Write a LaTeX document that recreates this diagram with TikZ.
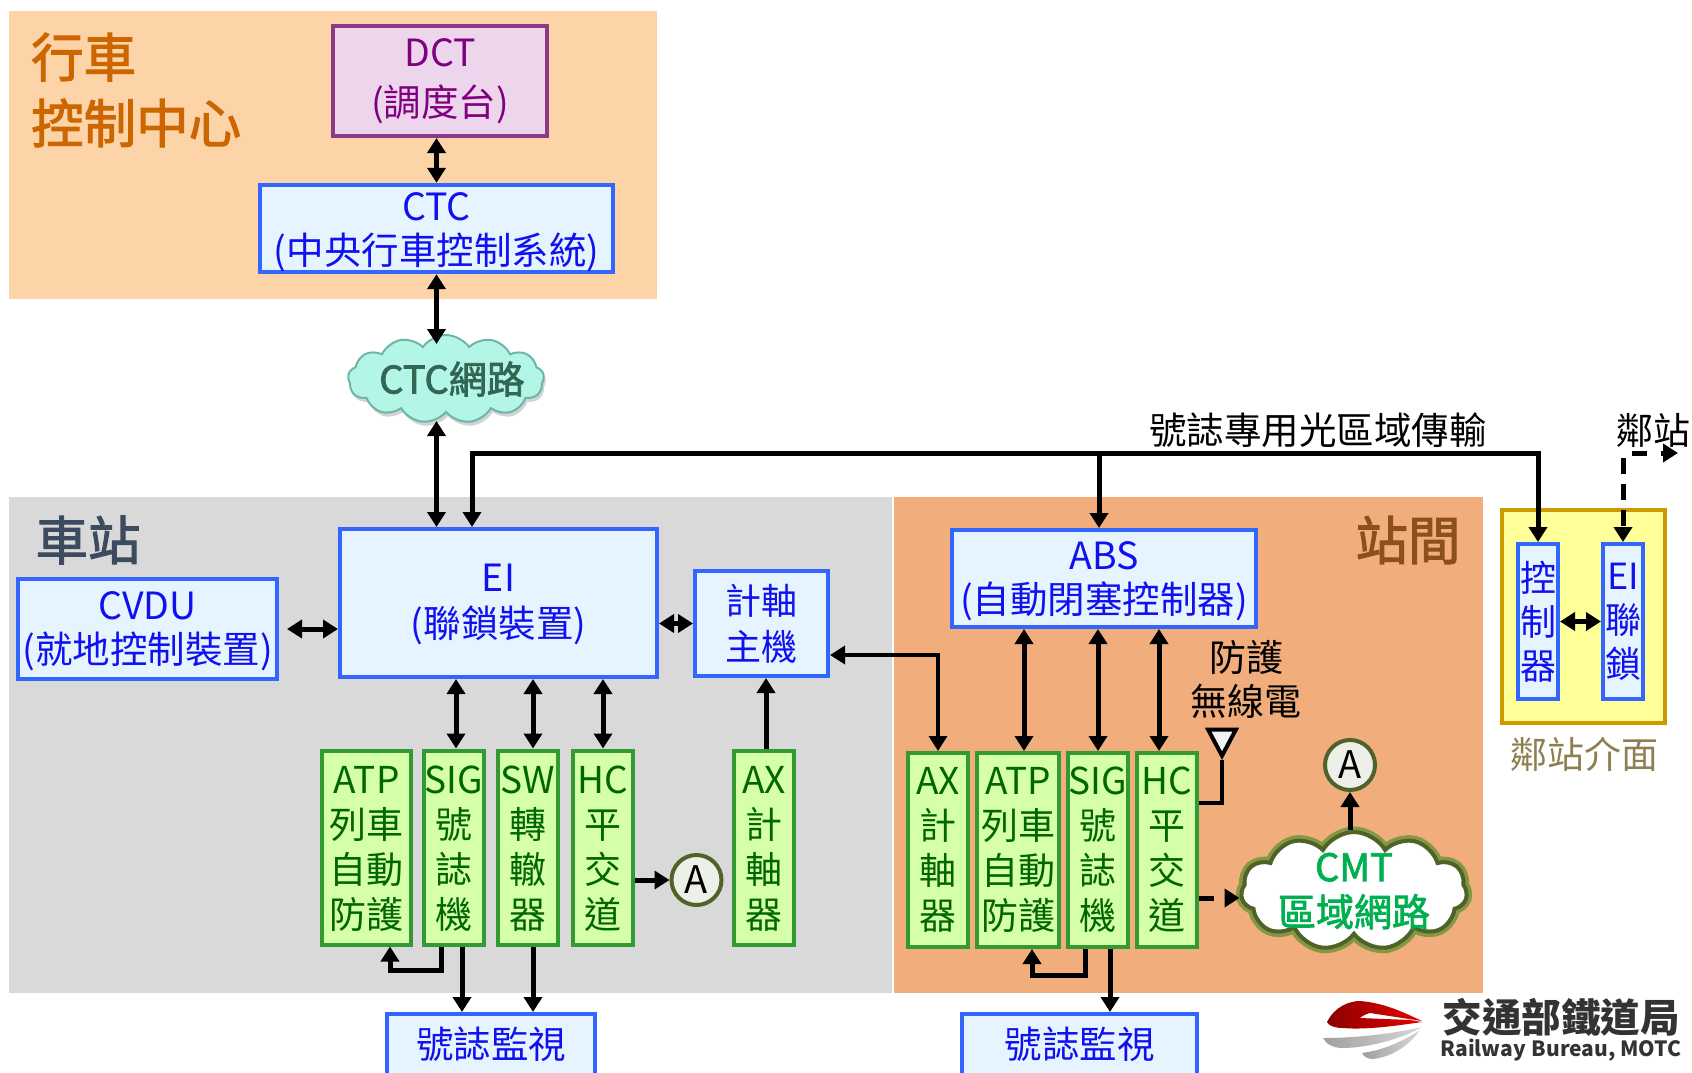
\documentclass[tikz,border=0pt]{standalone}
\usepackage{fontspec}
\setmainfont{Noto Sans CJK TC}
\newfontfamily\boldish{Noto Sans CJK TC}[FakeBold=2]
\usepackage{tikz}
\usetikzlibrary{positioning,arrows.meta,shapes.symbols,shapes.geometric,shadows,calc}
\definecolor{panelctc}{HTML}{FDD3A8}
\definecolor{panelsta}{HTML}{D9D9D9}
\definecolor{panelbtw}{HTML}{F2AD7C}
\definecolor{panelnbr}{HTML}{FFFF99}
\definecolor{edgenbr}{HTML}{CC9900}
\definecolor{blueedge}{HTML}{3366FF}
\definecolor{bluefill}{HTML}{E5F4FF}
\definecolor{bluetext}{HTML}{1010F0}
\definecolor{greenedge}{HTML}{339933}
\definecolor{greenfill}{HTML}{D6FFAA}
\definecolor{greentext}{HTML}{006600}
\definecolor{purpedge}{HTML}{8B3A8B}
\definecolor{purpfill}{HTML}{EDD6EC}
\definecolor{purptext}{HTML}{800080}
\definecolor{olive}{HTML}{4F6228}
\definecolor{titlectc}{HTML}{CC6600}
\definecolor{titlesta}{HTML}{3D4B5F}
\definecolor{titlebtw}{HTML}{8C4F1E}
\definecolor{cloudfill}{HTML}{B3F5E6}
\definecolor{cloudedge}{HTML}{6FB5A5}
\definecolor{cloudtext}{HTML}{336655}
\definecolor{cmttext}{HTML}{00B050}
\definecolor{nbrtext}{HTML}{8F7F50}
\newcommand{\fs}[2]{\fontsize{#1}{#2}\selectfont}
\newcommand{\dn}[1]{\rule{0pt}{#1pt}}

\begin{document}
\begin{tikzpicture}[x=1pt, y=-1pt,
        >={Triangle[length=15pt,width=18pt]},
        bluebox/.style={rectangle, draw=blueedge, fill=bluefill, line width=4pt, text=bluetext, align=center, inner sep=0pt, font=\fs{37.5}{45}},
        greenbox/.style={rectangle, draw=greenedge, fill=greenfill, line width=4pt, text=greentext, align=center, inner sep=0pt, minimum height=194pt, font=\fs{37}{45}},
        circA/.style={circle, draw=olive, fill=olive!10, line width=4pt, minimum size=50pt, inner sep=0pt, font=\fs{38}{44}},
        link/.style={<->, line width=5pt},
        feed/.style={->, line width=5pt},
        label/.style={inner sep=0pt, align=center, font=\fs{37}{44}},
        heading/.style={inner sep=0pt, align=left, font=\boldish\fs{52.5}{66}}]
    \useasboundingbox (0,0) rectangle (1692,1073);

    % Background areas
    \fill[panelctc] (9,11) rectangle (657,299);
    \fill[panelsta] (9,497) rectangle (892,993);
    \fill[panelbtw] (894,497) rectangle (1483,993);
    \draw[edgenbr, line width=4pt, fill=panelnbr] (1502,510) rectangle (1665,723);

    \node[heading, text=titlectc, anchor=west] (namectc) at (31,90) {行車\\控制中心};
    \node[heading, text=titlesta] (namesta) at (88,540) {車站};
    \node[heading, text=titlebtw] (namebtw) at (1408,540) {站間};

    % Control centre
    \node[rectangle, draw=purpedge, fill=purpfill, line width=4pt, text=purptext, align=center, inner sep=0pt, minimum width=214pt, minimum height=110pt, font=\fs{37.5}{50}] (dct) at (440,81) {DCT\\(調度台)};
    \node[bluebox, minimum width=353pt, minimum height=83pt, font=\fs{37.5}{44}] (ctc) at (436.5,228.5) {\dn{36}CTC\\(中央行車控制系統)};
    \node[cloud, cloud puffs=13, cloud puff arc=110, cloud ignores aspect, draw=cloudedge, fill=cloudfill, line width=2pt, minimum width=196pt, minimum height=88pt, inner sep=-12pt, text=cloudtext, font=\boldish\fs{38}{44}, drop shadow={shadow xshift=2pt, shadow yshift=-4pt, opacity=.35}] (ctcnet) at (446,379) {\hspace*{12pt}CTC網路};

    % Station
    \node[bluebox, minimum width=317pt, minimum height=148pt, font=\fs{37.5}{46}] (ei) at (498.5,603) {\dn{31}EI\\(聯鎖裝置)};
    \node[bluebox, minimum width=259pt, minimum height=100pt, font=\fs{37.5}{44}] (cvdu) at (147.5,629) {\dn{33}CVDU\\(就地控制裝置)};
    \node[bluebox, minimum width=133pt, minimum height=105pt, font=\fs{36}{46}] (axhost) at (761.5,623.5) {計軸\\主機};
    \node[greenbox, minimum width=89pt] (atpa) at (366.5,847.5) {\dn{30}ATP\\列車\\自動\\防護};
    \node[greenbox, minimum width=60pt] (siga) at (454,847.5) {\dn{30}SIG\\號\\誌\\機};
    \node[greenbox, minimum width=60pt] (swa) at (528,847.5) {\dn{30}SW\\轉\\轍\\器};
    \node[greenbox, minimum width=60pt] (hca) at (603,847.5) {\dn{30}HC\\平\\交\\道};
    \node[greenbox, minimum width=60pt] (axa) at (764,847.5) {\dn{30}AX\\計\\軸\\器};
    \node[circA] (aleft) at (696.5,880) {A};
    \node[bluebox, minimum width=208pt, minimum height=61pt] (mona) at (491,1044.5) {號誌監視};

    % Between stations
    \node[bluebox, minimum width=304pt, minimum height=97pt, font=\fs{37.5}{44}] (abs) at (1104,578.5) {\dn{33}ABS\\(自動閉塞控制器)};
    \node[greenbox, minimum width=60pt] (axb) at (938,850) {AX\\計\\軸\\器};
    \node[greenbox, minimum width=82pt] (atpb) at (1018,850) {ATP\\列車\\自動\\防護};
    \node[greenbox, minimum width=60pt] (sigb) at (1098,850) {SIG\\號\\誌\\機};
    \node[greenbox, minimum width=60pt] (hcb) at (1167,850) {HC\\平\\交\\道};
    \node[bluebox, minimum width=235pt, minimum height=61pt] (monb) at (1079.5,1044.5) {號誌監視};
    \node[circA] (aright) at (1350,765) {A};
    \node[cloud, cloud puffs=11, cloud puff arc=120, cloud ignores aspect, draw=olive, fill=white, line width=4pt, minimum width=226pt, minimum height=118pt, inner sep=-20pt, text=cmttext, align=center, font=\boldish\fs{38}{45}, preaction={draw=green!50!black, draw opacity=.45, line width=11pt}] (cmt) at (1354,891) {CMT\\區域網路};
    \node[isosceles triangle, isosceles triangle apex angle=56, shape border rotate=-90, draw=black, fill=black!5, line width=4pt, minimum height=26pt, inner sep=0pt] (ant) at (1222,738) {};
    \node[label] (radio) at (1246,679) {防護\\無線電};

    % Neighbour station
    \node[bluebox, minimum width=40pt, minimum height=155pt, font=\fs{36}{44}] (ctrl) at (1538,621.5) {控\\制\\器};
    \node[bluebox, minimum width=40pt, minimum height=155pt, font=\fs{36}{44}] (einbr) at (1623,621.5) {EI\\聯\\鎖};
    \node[label, text=nbrtext] (nbrface) at (1584,754) {鄰站介面};
    \node[label, font=\fs{37.5}{44}] (busname) at (1318,430) {號誌專用光區域傳輸};
    \node[label] (nbrname) at (1653,430) {鄰站};

    % Corner points
    \coordinate (bus) at (472,453);
    \coordinate (busend) at (1538,453);
    \coordinate (busabs) at (1099,453);
    \coordinate (nbrturn) at (1623,453);
    \coordinate (nbrend) at (1678,453);
    \coordinate (netbottom) at (436.5,421);
    \coordinate (loopa) at (441,970);
    \coordinate (backa) at (390,970);
    \coordinate (sigax) at (456,700);
    \coordinate (swax) at (533,700);
    \coordinate (axax) at (766,700);
    \coordinate (mona1) at (462,1000);
    \coordinate (loopb) at (1085,975);
    \coordinate (backb) at (1032,975);
    \coordinate (monb1) at (1110,1000);
    \coordinate (atpbx) at (1024,700);
    \coordinate (hcbx) at (1159,700);
    \coordinate (axlevel) at (900,655);
    \coordinate (radiolevel) at (1210,803);
    \coordinate (cmtlevel) at (1210,898);

    % Upper links
    \draw[link] (dct.south -| ctc.north) -- (ctc.north);
    \draw[link] (ctc.south) -- ($(ctc.south |- ctcnet.north)+(0,10)$);
    \draw[link] (netbottom) -- (ei.north -| netbottom);
    \draw[link, shorten <=8pt] (cvdu.east) -- (ei.west |- cvdu.east);
    \draw[link] (ei.east |- axhost.east) -- (axhost.west);
    \draw[link] (ei.north -| bus) -- (bus) -- (busend) -- (ctrl.north);
    \draw[feed] (busabs) -- (abs.north -| busabs);
    \draw[feed, dash pattern=on 16pt off 10pt, dash phase=21pt] (nbrturn) -- (einbr.north);
    \draw[feed, dash pattern=on 15pt off 14pt, dash phase=20pt] (nbrturn) -- (nbrend);
    \draw[link] (ctrl.east |- einbr.west) -- (einbr.west);

    % Station links
    \draw[link] (siga.north -| sigax) -- (sigax |- ei.south);
    \draw[link] (swa.north -| swax) -- (swax |- ei.south);
    \draw[link] (hca.north) -- (hca.north |- ei.south);
    \draw[feed] (axa.north -| axax) -- (axax |- axhost.south);
    \draw[feed] (hca.east |- aleft.west) -- (aleft.west);
    \draw[feed] (loopa |- siga.south) -- (loopa) -- (backa) -- (backa |- atpa.south);
    \draw[feed] (mona1 |- siga.south) -- (mona1 |- mona.north);
    \draw[feed] (swa.south -| swax) -- (mona.north -| swax);

    % Links between stations
    \draw[<->, line width=3.5pt] (axhost.east |- axlevel) -| (axb.north);
    \draw[link] (atpb.north -| atpbx) -- (atpbx |- abs.south);
    \draw[link] (sigb.north) -- (sigb.north |- abs.south);
    \draw[link] (hcb.north -| hcbx) -- (hcbx |- abs.south);
    \draw[line width=4.5pt] (hcb.east |- radiolevel) -| (ant.apex);
    \draw[feed] (cmt.north -| aright) -- (aright.south);
    \draw[feed, dash pattern=on 15pt off 12pt] (hcb.east |- cmtlevel) -- (cmt.west |- cmtlevel);
    \draw[feed] (loopb |- sigb.south) -- (loopb) -- (backb) -- (backb |- atpb.south);
    \draw[feed] (monb1 |- sigb.south) -- (monb1 |- monb.north);

    % Logo
    \shade[left color=red!55!black, right color=red!90!black] (1327,1022) .. controls (1335,1006) and (1350,1001) .. (1360,1001) .. controls (1385,1003) and (1405,1013) .. (1422,1021) -- (1370,1013) .. controls (1366,1014) and (1362,1016) .. (1360,1018) -- (1410,1020) -- (1422,1022) .. controls (1395,1026) and (1365,1030) .. (1343,1028) .. controls (1335,1028) and (1329,1026) .. (1327,1022) -- cycle;
    \shade[left color=gray!75, right color=gray!30] (1323,1038) .. controls (1360,1038) and (1395,1033) .. (1422,1027) .. controls (1400,1040) and (1365,1048) .. (1343,1048) .. controls (1333,1048) and (1326,1044) .. (1323,1038) -- cycle;
    \shade[left color=gray!75, right color=gray!30] (1362,1053) .. controls (1385,1050) and (1405,1040) .. (1420,1030) .. controls (1410,1045) and (1392,1057) .. (1373,1059) .. controls (1368,1059) and (1364,1057) .. (1362,1053) -- cycle;
    \node[inner sep=0pt, text=black!80, font=\bfseries\fs{39.5}{44}] (logotop) at (1561,1017) {交通部鐵道局};
    \node[inner sep=0pt, text=black!80, font=\bfseries\fs{21}{26}] (logobot) at (1561,1050) {Railway\hspace{6pt}Bureau, MOTC};
\end{tikzpicture}
\end{document}
